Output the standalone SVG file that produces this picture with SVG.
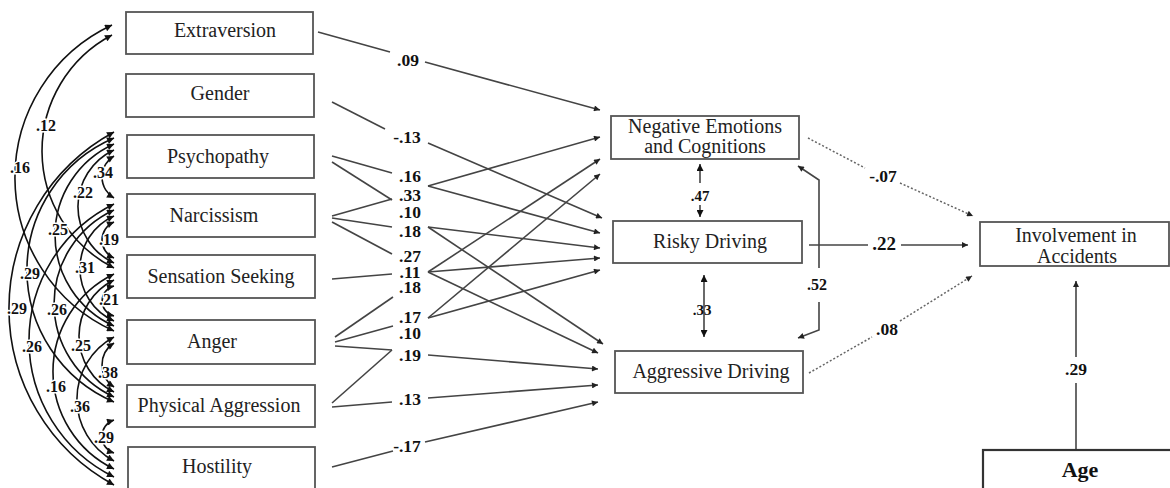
<svg xmlns="http://www.w3.org/2000/svg" width="1170" height="488" viewBox="0 0 1170 488">
<style>
.box{fill:#fff;stroke:#555;stroke-width:1.8}
.bt{font-family:"Liberation Serif","Times New Roman",serif;font-size:20px;fill:#222;text-anchor:middle}
.lb{font-family:"Liberation Serif","Times New Roman",serif;font-size:17.5px;font-weight:bold;fill:#111;text-anchor:middle}
.ll{font-family:"Liberation Serif","Times New Roman",serif;font-size:16px;font-weight:bold;fill:#111;text-anchor:middle;stroke:#fff;stroke-width:3;paint-order:stroke}
.ln{fill:none;stroke:#444;stroke-width:1.6}
.ar{fill:none;stroke:#444;stroke-width:1.6;marker-end:url(#ah)}
.cv{fill:none;stroke:#111;stroke-width:1.6;marker-start:url(#ahL);marker-end:url(#ahL)}
.dt{fill:none;stroke:#666;stroke-width:1.5;stroke-dasharray:2 2}
</style>
<defs>
<marker id="ah" viewBox="0 0 10 10" refX="10" refY="5" markerWidth="8" markerHeight="6" markerUnits="userSpaceOnUse" orient="auto"><path d="M0,0 L10,5 L0,10 z" fill="#222"/></marker>
<marker id="ah2" viewBox="0 0 10 10" refX="10" refY="5" markerWidth="8" markerHeight="7" markerUnits="userSpaceOnUse" orient="auto-start-reverse"><path d="M0,0 L10,5 L0,10 z" fill="#111"/></marker>
<marker id="ahL" viewBox="0 0 10 10" refX="10" refY="5" markerWidth="11" markerHeight="7" markerUnits="userSpaceOnUse" orient="auto-start-reverse"><path d="M0,0 L10,5 L0,10 z" fill="#111"/></marker>
</defs>
<rect width="1170" height="488" fill="#fff"/>

<g id="connectors">
<!-- covariance arcs -->
<path class="cv" d="M112,25 A168.4,168.4 0 0 0 114,331"/>
<path class="cv" d="M112,35 A131.1,131.1 0 0 0 114,268"/>
<path class="cv" d="M114,156 A24.4,24.4 0 0 0 114,198"/>
<path class="cv" d="M114,222 A19.5,19.5 0 0 0 114,258"/>
<path class="cv" d="M114,286 A15.4,15.4 0 0 0 114,316"/>
<path class="cv" d="M114,343 A26.2,26.2 0 0 0 114,387"/>
<path class="cv" d="M114,420 A17.3,17.3 0 0 0 114,453"/>
<path class="cv" d="M114,150 A62.3,62.3 0 0 0 114,263"/>
<path class="cv" d="M114,216 A57.5,57.5 0 0 0 114,321"/>
<path class="cv" d="M114,280 A62.3,62.3 0 0 0 114,392"/>
<path class="cv" d="M114,337 A70.4,70.4 0 0 0 114,461"/>
<path class="cv" d="M114,144 A99.7,99.7 0 0 0 114,326"/>
<path class="cv" d="M114,210 A102.9,102.9 0 0 0 114,397"/>
<path class="cv" d="M114,274 A108.4,108.4 0 0 0 114,469"/>
<path class="cv" d="M114,138 A143.6,143.6 0 0 0 114,402"/>
<path class="cv" d="M114,204 A152.1,152.1 0 0 0 114,477"/>
<path class="cv" d="M114,132 A200.8,200.8 0 0 0 114,485"/>

<!-- left segments -->
<path class="ln" d="M318,32 L390,52"/>
<path class="ln" d="M332,102 L385,129"/>
<path class="ln" d="M332,156 L392,173"/>
<path class="ln" d="M332,162 L392,200"/>
<path class="ln" d="M332,216 L392,199"/>
<path class="ln" d="M332,218 L392,227"/>
<path class="ln" d="M332,222 L392,254"/>
<path class="ln" d="M332,279 L392,274"/>
<path class="ln" d="M335,337 L393,297"/>
<path class="ln" d="M335,342 L393,326"/>
<path class="ln" d="M335,346 L392,350"/>
<path class="ln" d="M332,403 L392,350"/>
<path class="ln" d="M332,407 L392,402"/>
<path class="ln" d="M332,467 L393,451"/>
<!-- right segments -->
<path class="ar" d="M425,62 L600,110"/>
<path class="ar" d="M428,143 L602,218"/>
<path class="ar" d="M428,186 L600,137"/>
<path class="ar" d="M428,186 L600,233"/>
<path class="ar" d="M428,227 L600,248"/>
<path class="ar" d="M428,227 L603,344"/>
<path class="ar" d="M428,272 L600,159"/>
<path class="ar" d="M428,272 L600,258"/>
<path class="ar" d="M428,272 L598,353"/>
<path class="ar" d="M428,318 L600,174"/>
<path class="ar" d="M428,318 L600,270"/>
<path class="ar" d="M428,355 L598,369"/>
<path class="ar" d="M428,398 L598,385"/>
<path class="ar" d="M425,442 L598,402"/>

<!-- mediators -->
<path class="ln" d="M700,183 L700,164" style="marker-end:url(#ah2)"/>
<path class="ln" d="M700,205 L700,217" style="marker-end:url(#ah2)"/>
<path class="ln" d="M704,275 L704,337" style="marker-start:url(#ah2);marker-end:url(#ah2)"/>
<path class="ln" d="M819,268 L819,180 L798,166" style="marker-end:url(#ah)"/>
<path class="ln" d="M819,302 L819,330 L798,338" style="marker-end:url(#ah)"/>
<path class="ln" d="M809,245 L868,245"/>
<path class="ar" d="M901,245 L968,245"/>
<path class="dt" d="M808,138 L865,168"/>
<path class="dt" d="M900,183 L973,216" style="marker-end:url(#ah)"/>
<path class="dt" d="M809,373 L872,337"/>
<path class="dt" d="M900,321 L972,276" style="marker-end:url(#ah)"/>
<path class="ln" d="M1076,450 L1076,383"/>
<path class="ar" d="M1076,357 L1076,281"/>
</g>

<g id="labels-left">
<text class="ll" x="46" y="131">.12</text>
<text class="ll" x="20" y="173">.16</text>
<text class="ll" x="103" y="178">.34</text>
<text class="ll" x="83" y="198">.22</text>
<text class="ll" x="58" y="235">.25</text>
<text class="ll" x="109" y="245">.19</text>
<text class="ll" x="85" y="273">.31</text>
<text class="ll" x="30" y="279">.29</text>
<text class="ll" x="109" y="305">.21</text>
<text class="ll" x="17" y="314">.29</text>
<text class="ll" x="57" y="315">.26</text>
<text class="ll" x="32" y="352">.26</text>
<text class="ll" x="81" y="351">.25</text>
<text class="ll" x="108" y="378">.38</text>
<text class="ll" x="56" y="392">.16</text>
<text class="ll" x="80" y="412">.36</text>
<text class="ll" x="104" y="443">.29</text>
</g>

<g id="labels-mid">
<text class="lb" x="408" y="66">.09</text>
<text class="lb" x="407" y="143">-.13</text>
<text class="lb" x="410" y="182">.16</text>
<text class="lb" x="410" y="201">.33</text>
<text class="lb" x="410" y="218">.10</text>
<text class="lb" x="410" y="237">.18</text>
<text class="lb" x="410" y="262">.27</text>
<text class="lb" x="410" y="278">.11</text>
<text class="lb" x="410" y="293">.18</text>
<text class="lb" x="410" y="323">.17</text>
<text class="lb" x="410" y="339">.10</text>
<text class="lb" x="410" y="361">.19</text>
<text class="lb" x="410" y="405">.13</text>
<text class="lb" x="407" y="452">-.17</text>
</g>

<g id="labels-right">
<text class="lb" x="700" y="201" style="font-size:15px">.47</text>
<text class="lb" x="702" y="315" style="font-size:15px">.33</text>
<text class="lb" x="817" y="290" style="font-size:16px">.52</text>
<text class="lb" x="884" y="250" style="font-size:19px">.22</text>
<text class="lb" x="883" y="182">-.07</text>
<text class="lb" x="887" y="335">.08</text>
<text class="lb" x="1076" y="375">.29</text>
</g>

<g id="n-extraversion"><rect class="box" x="126" y="12" width="187" height="42"/><text class="bt" x="225" y="37">Extraversion</text></g>
<g id="n-gender"><rect class="box" x="126" y="74" width="188" height="43"/><text class="bt" x="220" y="100">Gender</text></g>
<g id="n-psychopathy"><rect class="box" x="127" y="135" width="187" height="43"/><text class="bt" x="218" y="163">Psychopathy</text></g>
<g id="n-narcissism"><rect class="box" x="127" y="194" width="188" height="43"/><text class="bt" x="214" y="222">Narcissism</text></g>
<g id="n-sensation"><rect class="box" x="127" y="255" width="188" height="43"/><text class="bt" x="221" y="283">Sensation Seeking</text></g>
<g id="n-anger"><rect class="box" x="127" y="320" width="188" height="44"/><text class="bt" x="212" y="348">Anger</text></g>
<g id="n-physical"><rect class="box" x="127" y="385" width="188" height="42"/><text class="bt" x="219" y="412">Physical Aggression</text></g>
<g id="n-hostility"><rect class="box" x="128" y="447" width="187" height="50"/><text class="bt" x="217" y="473">Hostility</text></g>

<g id="n-negative"><rect class="box" x="611" y="116" width="188" height="43"/><text class="bt" x="705" y="133">Negative Emotions</text><text class="bt" x="705" y="153">and Cognitions</text></g>
<g id="n-risky"><rect class="box" x="613" y="221" width="189" height="42"/><text class="bt" x="710" y="248">Risky Driving</text></g>
<g id="n-aggressive"><rect class="box" x="615" y="351" width="188" height="42"/><text class="bt" x="711" y="378">Aggressive Driving</text></g>

<g id="n-involvement"><rect class="box" x="980" y="222" width="189" height="44"/><text class="bt" x="1076" y="242">Involvement in</text><text class="bt" x="1077" y="263">Accidents</text></g>
<g id="n-age"><rect class="box" x="983" y="450" width="200" height="50" style="stroke:#333;stroke-width:2.2"/><text class="bt" x="1080" y="477" style="font-size:22px;font-weight:bold;fill:#111">Age</text></g>
</svg>
